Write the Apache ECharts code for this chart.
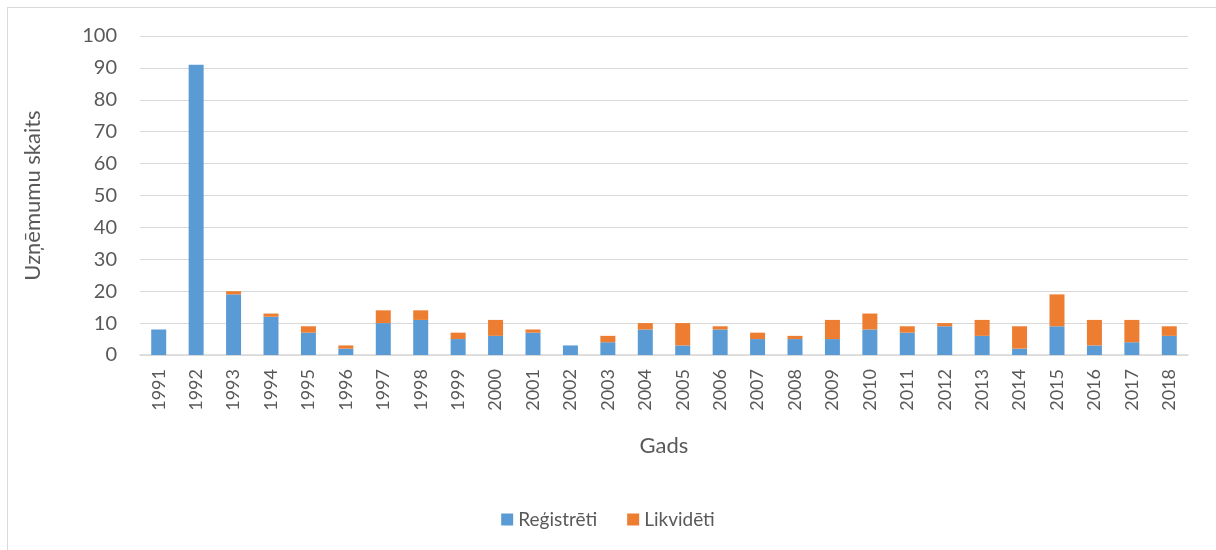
<!DOCTYPE html>
<html>
<head>
<meta charset="utf-8">
<script src="https://cdn.jsdelivr.net/npm/echarts@6/dist/echarts.min.js"></script>
<style>
  html, body { margin: 0; padding: 0; background: #fff; overflow: hidden; }
  #frame { position: absolute; left: 7px; top: 7px; width: 1300px; height: 600px; border: 1px solid #d9d9d9; box-sizing: border-box; }
  #chart { position: absolute; left: 0; top: 0; width: 1216px; height: 550px; }
</style>
</head>
<body>
<div id="frame"></div>
<div id="chart"></div>
<script>
// years on the x axis
const years = ['1991', '1992', '1993', '1994', '1995', '1996', '1997', '1998', '1999', '2000',
  '2001', '2002', '2003', '2004', '2005', '2006', '2007', '2008', '2009', '2010',
  '2011', '2012', '2013', '2014', '2015', '2016', '2017', '2018']
// registered companies
const registered = [8, 91, 19, 12, 7, 2, 10, 11, 5, 6, 7, 3, 4, 8, 3, 8, 5, 5, 5, 8, 7, 9, 6, 2, 9, 3, 4, 6]
// liquidated companies
const liquidated = [0, 0, 1, 1, 2, 1, 4, 3, 2, 5, 1, 0, 2, 2, 7, 1, 2, 1, 6, 5, 2, 1, 5, 7, 10, 8, 7, 3]

const font = 'Lato, "Open Sans", sans-serif'
const textColor = '#595959'

const chart = echarts.init(document.getElementById('chart'))
chart.setOption({
  animation: false,
  textStyle: { fontFamily: font },
  grid: { left: 140, right: 28, top: 36, bottom: 195 },
  legend: {
    bottom: 16,
    left: 'center',
    icon: 'rect',
    itemWidth: 12,
    itemHeight: 12,
    itemGap: 30,
    textStyle: { fontSize: 19, color: textColor, fontFamily: font },
    data: ['Reģistrēti', 'Likvidēti']
  },
  xAxis: {
    type: 'category',
    data: years,
    name: 'Gads',
    nameLocation: 'middle',
    nameGap: 80,
    nameTextStyle: { fontSize: 22, color: textColor },
    axisLine: { lineStyle: { color: '#d9d9d9', width: 1.5 } },
    axisTick: { show: false },
    axisLabel: { rotate: 90, fontSize: 18, color: textColor, margin: 14, interval: 0 }
  },
  yAxis: {
    type: 'value',
    min: 0,
    max: 100,
    interval: 10,
    name: 'Uzņēmumu skaits',
    nameLocation: 'middle',
    nameGap: 96,
    nameTextStyle: { fontSize: 22, color: textColor },
    axisLine: { show: false },
    axisTick: { show: false },
    axisLabel: { fontSize: 20, color: textColor, margin: 23 },
    splitLine: { lineStyle: { color: '#d9d9d9', width: 1 } }
  },
  series: [
    {
      name: 'Reģistrēti',
      type: 'bar',
      stack: 'total',
      barWidth: 15,
      itemStyle: { color: '#5b9bd5' },
      data: registered
    },
    {
      name: 'Likvidēti',
      type: 'bar',
      stack: 'total',
      barWidth: 15,
      itemStyle: { color: '#ed7d31' },
      data: liquidated
    }
  ]
})
</script>
</body>
</html>
